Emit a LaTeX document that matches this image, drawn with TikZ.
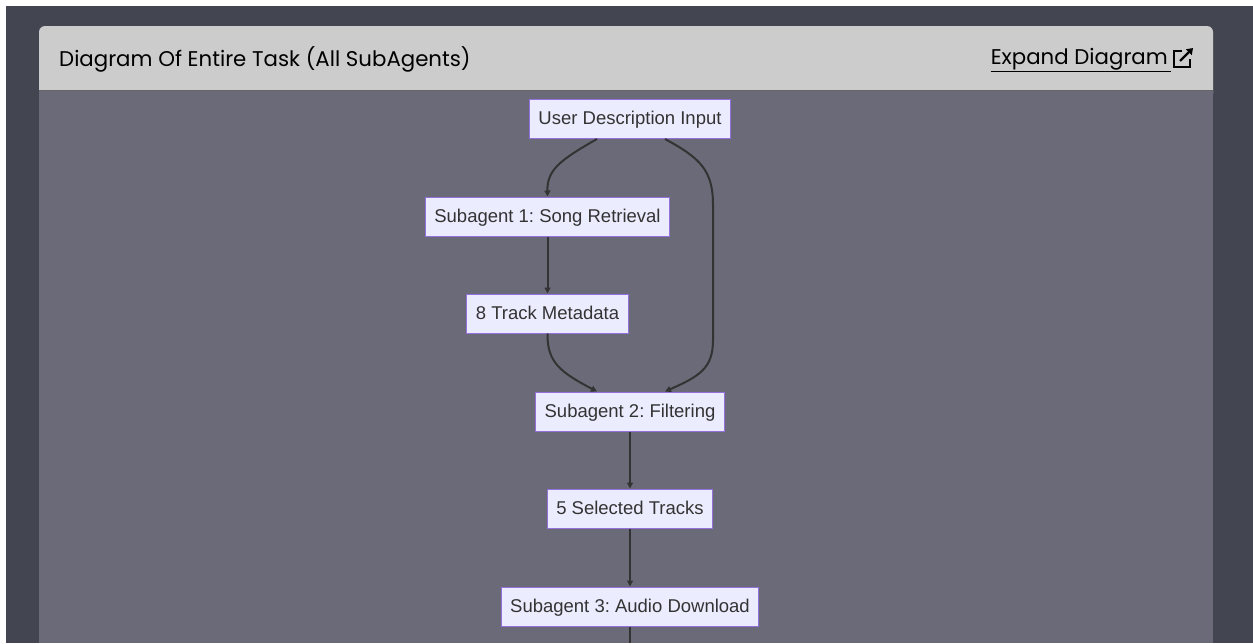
\documentclass[tikz,border=0pt]{standalone}
\usepackage{fontspec}
\setmainfont{Liberation Sans}
\newfontfamily\headfont{Poppins}
\usetikzlibrary{arrows.meta}
\frenchspacing

\definecolor{pagebg}{HTML}{434651}
\definecolor{panelbg}{HTML}{6B6A78}
\definecolor{headbg}{HTML}{CCCCCC}
\definecolor{nodefill}{HTML}{ECECFF}
\definecolor{nodeline}{HTML}{9370DB}
\definecolor{edgeline}{HTML}{333333}

\tikzset{
  flowbox/.style={rectangle, draw=nodeline, fill=nodefill, line width=1pt,
    minimum height=39pt, inner xsep=9pt, text height=13pt, text depth=2pt,
    text=edgeline, font=\fontsize{18.5}{20}\selectfont},
  flow/.style={draw=edgeline, line width=2pt, -{Triangle[length=6pt,width=6pt]}},
  headtext/.style={font=\headfont\fontsize{21.3}{24}\selectfont, text=black}
}

\begin{document}
\begin{tikzpicture}[x=1pt,y=-1pt]
      \useasboundingbox (0,0) rectangle (1253,643);
      \fill[white] (0,0) rectangle (1253,643);
      \fill[pagebg] (6,6) rectangle (1253,643);
      % panel with header
      \fill[headbg, rounded corners=6pt] (39,26) rectangle (1213,100);
      \fill[panelbg] (39,90) rectangle (1213,643);
      \draw[gray!80!black, line width=0.8pt] (39,90) -- (1213,90);
      \node[headtext, anchor=west, inner sep=0pt] (title) at (59,59) {Diagram Of Entire Task (All SubAgents)};
      \node[headtext, anchor=east, inner sep=0pt] (expand) at (1168,59) {Expand Diagram};
      \draw[black, line width=1pt] ([yshift=-1pt]expand.south west) -- ([yshift=-1pt,xshift=3pt]expand.south east);
      % link icon
      \draw[black, line width=2.2pt] (1182,51) -- (1174,51) -- (1174,67) -- (1190,67) -- (1190,59);
      \draw[black, line width=2.4pt, -{Triangle[length=6pt,width=8pt]}] (1180,61) -- (1193,48);

      \node[flowbox] (input) at (630,119) {User Description Input};
      \node[flowbox] (agentA) at (547.5,216.5) {Subagent 1: Song Retrieval};
      \node[flowbox] (meta) at (547.5,313.5) {8 Track Metadata};
      \node[flowbox] (agentB) at (630,411.5) {Subagent 2: Filtering};
      \node[flowbox] (picked) at (630,508.5) {5 Selected Tracks};
      \node[flowbox] (agentC) at (630,606.5) {Subagent 3: Audio Download};
      \coordinate (below) at (630,643);

      \draw[flow] ([xshift=-33pt]input.south) .. controls (560,160) and (547,170) .. (agentA.north);
      \draw[flow] ([xshift=35pt]input.south) .. controls (700,158) and (713,170) .. (713,205)
                  -- (713,340) .. controls (713,368) and (700,376) .. ([xshift=35pt]agentB.north);
      \draw[flow] (agentA) -- (meta);
      \draw[flow] (meta.south) .. controls (547,362) and (560,372) .. ([xshift=-33pt]agentB.north);
      \draw[flow] (agentB) -- (picked);
      \draw[flow] (picked) -- (agentC);
      \draw[draw=edgeline, line width=2pt] (agentC) -- (below);
\end{tikzpicture}
\end{document}
